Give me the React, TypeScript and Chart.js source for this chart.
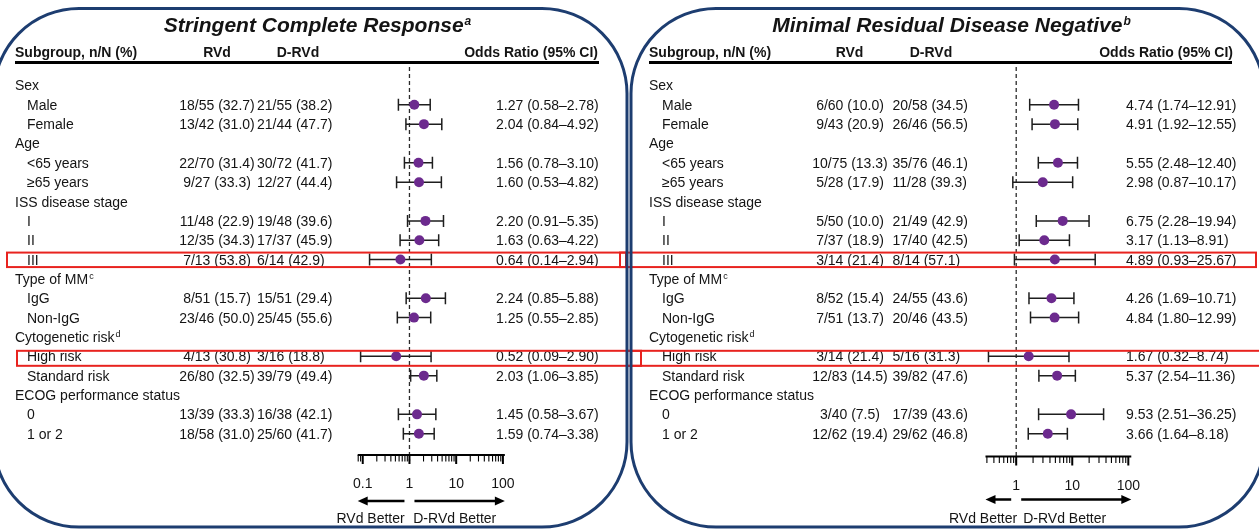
import React, { useEffect, useRef } from "react";
import { Chart, registerables } from "chart.js";

Chart.register(...registerables);

const W = 1259;
const H = 529;
const FONT = '"Liberation Sans", Arial, Helvetica, sans-serif';
const PURPLE = "#6c2a8e";
const NAVY = "#1d3d70";
const RED = "#e8231f";
const INK = "#141414";

// Subgroup table rows (shared by both panels)
const subgroupLabels = [
  "Sex", "Male", "Female",
  "Age", "<65 years", "≥65 years",
  "ISS disease stage", "I", "II", "III",
  "Type of MM", "IgG", "Non-IgG",
  "Cytogenetic risk", "High risk", "Standard risk",
  "ECOG performance status", "0", "1 or 2",
];
const subgroupIndent = [0, 1, 1, 0, 1, 1, 0, 1, 1, 1, 0, 1, 1, 0, 1, 1, 0, 1, 1];
const subgroupSup = ["", "", "", "", "", "", "", "", "", "", "c", "", "", "d", "", "", "", "", ""];

// Rows that carry an estimate, and rows that are outlined
const estimateRows = [1, 2, 4, 5, 7, 8, 9, 11, 12, 14, 15, 17, 18];
const outlinedRows = [9, 14];

// Stringent complete response
const scrRVd = ["18/55 (32.7)", "13/42 (31.0)", "22/70 (31.4)", "9/27 (33.3)", "11/48 (22.9)", "12/35 (34.3)", "7/13 (53.8)", "8/51 (15.7)", "23/46 (50.0)", "4/13 (30.8)", "26/80 (32.5)", "13/39 (33.3)", "18/58 (31.0)"];
const scrDRVd = ["21/55 (38.2)", "21/44 (47.7)", "30/72 (41.7)", "12/27 (44.4)", "19/48 (39.6)", "17/37 (45.9)", "6/14 (42.9)", "15/51 (29.4)", "25/45 (55.6)", "3/16 (18.8)", "39/79 (49.4)", "16/38 (42.1)", "25/60 (41.7)"];
const scrOR = [1.27, 2.04, 1.56, 1.6, 2.2, 1.63, 0.64, 2.24, 1.25, 0.52, 2.03, 1.45, 1.59];
const scrLow = [0.58, 0.84, 0.78, 0.53, 0.91, 0.63, 0.14, 0.85, 0.55, 0.09, 1.06, 0.58, 0.74];
const scrHigh = [2.78, 4.92, 3.1, 4.82, 5.35, 4.22, 2.94, 5.88, 2.85, 2.9, 3.85, 3.67, 3.38];
const scrTicks = [0.1, 1, 10, 100];

// Minimal residual disease negative
const mrdRVd = ["6/60 (10.0)", "9/43 (20.9)", "10/75 (13.3)", "5/28 (17.9)", "5/50 (10.0)", "7/37 (18.9)", "3/14 (21.4)", "8/52 (15.4)", "7/51 (13.7)", "3/14 (21.4)", "12/83 (14.5)", "3/40 (7.5)", "12/62 (19.4)"];
const mrdDRVd = ["20/58 (34.5)", "26/46 (56.5)", "35/76 (46.1)", "11/28 (39.3)", "21/49 (42.9)", "17/40 (42.5)", "8/14 (57.1)", "24/55 (43.6)", "20/46 (43.5)", "5/16 (31.3)", "39/82 (47.6)", "17/39 (43.6)", "29/62 (46.8)"];
const mrdOR = [4.74, 4.91, 5.55, 2.98, 6.75, 3.17, 4.89, 4.26, 4.84, 1.67, 5.37, 9.53, 3.66];
const mrdLow = [1.74, 1.92, 2.48, 0.87, 2.28, 1.13, 0.93, 1.69, 1.8, 0.32, 2.54, 2.51, 1.64];
const mrdHigh = [12.91, 12.55, 12.4, 10.17, 19.94, 8.91, 25.67, 10.71, 12.99, 8.74, 11.36, 36.25, 8.18];
const mrdTicks = [1, 10, 100];

// Layout of the two panels
const ROW_TOP = 82;
const ROW_STEP = 19.72;

const panels = [
  {
    title: "Stringent Complete Response", sup: "a", scaleId: "x",
    onePx: 407.7, decadePx: 47.1,
    titleCenter: 317.5, labelX: 15, indentX: 27,
    rvdX: 217, rvdHeadX: 217, drvdX: 257, drvdHeadX: 298,
    orX: 496, orHeadRight: 598, ruleL: 15, ruleR: 599,
    axisY: 455, axisFrom: 0.078, axisTo: 110, tickLabelY: 488, arrowY: 501,
    betterShift: -0.5, betterGap: 4.3,
    rvd: scrRVd, drvd: scrDRVd, or: scrOR, low: scrLow, high: scrHigh, ticks: scrTicks,
    boxes: [[7, 626], [17, 641]],
    border: [-6, 627],
  },
  {
    title: "Minimal Residual Disease Negative", sup: "b", scaleId: "xR",
    onePx: 1019.3, decadePx: 56.5,
    titleCenter: 951.5, labelX: 649, indentX: 662,
    rvdX: 850, rvdHeadX: 849.5, drvdX: 892.5, drvdHeadX: 931,
    orX: 1126, orHeadRight: 1233, ruleL: 649, ruleR: 1232,
    axisY: 456.5, axisFrom: 0.283, axisTo: 113, tickLabelY: 490, arrowY: 499.5,
    betterShift: 4, betterGap: 3,
    rvd: mrdRVd, drvd: mrdDRVd, or: mrdOR, low: mrdLow, high: mrdHigh, ticks: mrdTicks,
    boxes: [[620, 1256], [627, 1270]],
    border: [631, 1264],
  },
];

const fmt = (v: number) => v.toFixed(2);

function text(ctx: CanvasRenderingContext2D, s: string, x: number, y: number, align: CanvasTextAlign, font: string) {
  ctx.font = font;
  ctx.textAlign = align;
  ctx.textBaseline = "alphabetic";
  ctx.fillText(s, x, y);
}

function drawPanel(chart: any, p: any) {
  const ctx: CanvasRenderingContext2D = chart.ctx;
  const xs = chart.scales[p.scaleId];
  const ys = chart.scales.y;
  const reg = `14px ${FONT}`;
  const bold = `bold 14px ${FONT}`;
  ctx.fillStyle = INK;

  // title with superscript
  ctx.font = `italic bold 21px ${FONT}`;
  const wMain = ctx.measureText(p.title).width;
  ctx.font = `italic bold 12px ${FONT}`;
  const wSup = ctx.measureText(p.sup).width;
  const start = p.titleCenter - (wMain + wSup + 1) / 2;
  text(ctx, p.title, start, 31.5, "left", `italic bold 21px ${FONT}`);
  text(ctx, p.sup, start + wMain + 1, 24.5, "left", `italic bold 12px ${FONT}`);

  // column headers and rule
  text(ctx, "Subgroup, n/N (%)", p.labelX, 56.5, "left", bold);
  text(ctx, "RVd", p.rvdHeadX, 56.5, "center", bold);
  text(ctx, "D-RVd", p.drvdHeadX, 56.5, "center", bold);
  text(ctx, "Odds Ratio (95% CI)", p.orHeadRight, 56.5, "right", bold);
  ctx.strokeStyle = "#000";
  ctx.lineWidth = 3;
  ctx.beginPath();
  ctx.moveTo(p.ruleL, 62.5);
  ctx.lineTo(p.ruleR, 62.5);
  ctx.stroke();

  // subgroup labels
  subgroupLabels.forEach((lab, i) => {
    const yb = ys.getPixelForValue(i) + 5;
    const x = subgroupIndent[i] ? p.indentX : p.labelX;
    text(ctx, lab, x, yb, "left", reg);
    if (subgroupSup[i]) {
      ctx.font = reg;
      const w = ctx.measureText(lab).width;
      text(ctx, subgroupSup[i], x + w + 1, yb - 5, "left", `9px ${FONT}`);
    }
  });

  // counts and odds ratios
  estimateRows.forEach((row, k) => {
    const yb = ys.getPixelForValue(row) + 5;
    text(ctx, p.rvd[k], p.rvdX, yb, "center", reg);
    text(ctx, p.drvd[k], p.drvdX, yb, "left", reg);
    text(ctx, `${fmt(p.or[k])} (${fmt(p.low[k])}–${fmt(p.high[k])})`, p.orX, yb, "left", reg);
  });

  // line of no effect
  const x1 = xs.getPixelForValue(1);
  ctx.save();
  ctx.strokeStyle = "#2a2a2a";
  ctx.lineWidth = 1.3;
  ctx.setLineDash([4, 3]);
  ctx.beginPath();
  ctx.moveTo(x1, 67);
  ctx.lineTo(x1, p.axisY + 6);
  ctx.stroke();
  ctx.restore();

  // confidence intervals
  ctx.strokeStyle = "#1e1e1e";
  ctx.lineWidth = 1.5;
  estimateRows.forEach((row, k) => {
    const y = ys.getPixelForValue(row);
    const a = xs.getPixelForValue(p.low[k]);
    const b = xs.getPixelForValue(p.high[k]);
    ctx.beginPath();
    ctx.moveTo(a, y);
    ctx.lineTo(b, y);
    ctx.moveTo(a, y - 6);
    ctx.lineTo(a, y + 6);
    ctx.moveTo(b, y - 6);
    ctx.lineTo(b, y + 6);
    ctx.stroke();
  });

  // log axis
  const ax0 = xs.getPixelForValue(p.axisFrom);
  const ax1 = xs.getPixelForValue(p.axisTo);
  ctx.strokeStyle = "#000";
  ctx.lineWidth = 2;
  ctx.beginPath();
  ctx.moveTo(ax0, p.axisY);
  ctx.lineTo(ax1, p.axisY);
  ctx.stroke();
  for (let e = -2; e <= 2; e++) {
    for (let m = 1; m <= 9; m++) {
      const v = m * Math.pow(10, e);
      if (v < p.axisFrom * 0.999 || v > p.axisTo * 1.001) continue;
      const tx = xs.getPixelForValue(v);
      ctx.lineWidth = m === 1 ? 2 : 1.1;
      ctx.beginPath();
      ctx.moveTo(tx, p.axisY);
      ctx.lineTo(tx, p.axisY + (m === 1 ? 9 : 6.5));
      ctx.stroke();
    }
  }
  ctx.fillStyle = INK;
  p.ticks.forEach((t: number) => {
    text(ctx, String(t), xs.getPixelForValue(t), p.tickLabelY, "center", reg);
  });

  // direction arrows
  const arrow = (from: number, to: number, y: number) => {
    const dir = Math.sign(to - from);
    ctx.strokeStyle = "#000";
    ctx.lineWidth = 2.5;
    ctx.beginPath();
    ctx.moveTo(from, y);
    ctx.lineTo(to - dir * 8, y);
    ctx.stroke();
    ctx.fillStyle = "#000";
    ctx.beginPath();
    ctx.moveTo(to, y);
    ctx.lineTo(to - dir * 10, y - 4.5);
    ctx.lineTo(to - dir * 10, y + 4.5);
    ctx.closePath();
    ctx.fill();
  };
  arrow(x1 - 5, ax0, p.arrowY);
  arrow(x1 + 5, ax1, p.arrowY);
  ctx.fillStyle = INK;
  const mid = x1 + p.betterShift;
  text(ctx, "RVd Better", mid - p.betterGap, 523, "right", reg);
  text(ctx, "D-RVd Better", mid + p.betterGap, 523, "left", reg);
}

const forestDecor = {
  id: "forestDecor",
  beforeDatasetsDraw(chart: any) {
    const ctx: CanvasRenderingContext2D = chart.ctx;
    ctx.save();
    ctx.fillStyle = "#fff";
    ctx.fillRect(0, 0, W, H);
    panels.forEach((p) => drawPanel(chart, p));
    ctx.restore();
  },
  afterDatasetsDraw(chart: any) {
    const ctx: CanvasRenderingContext2D = chart.ctx;
    const ys = chart.scales.y;
    ctx.save();
    // outlined subgroups
    ctx.strokeStyle = RED;
    ctx.lineWidth = 2;
    panels.forEach((p) => {
      outlinedRows.forEach((row, j) => {
        const yc = ys.getPixelForValue(row);
        const top = j === 0 ? yc - 7 : yc - 5.5;
        const bottom = j === 0 ? yc + 7.5 : yc + 9.5;
        const [l, r] = p.boxes[j];
        ctx.strokeRect(l, top, r - l, bottom - top);
      });
    });
    // rounded panel frames
    ctx.strokeStyle = NAVY;
    ctx.lineWidth = 3;
    panels.forEach((p) => {
      const [l, r] = p.border;
      ctx.beginPath();
      (ctx as any).roundRect(l, 8.5, r - l, 518.5, 85);
      ctx.stroke();
    });
    ctx.restore();
  },
};

export default function App() {
  const ref = useRef<HTMLCanvasElement>(null);

  useEffect(() => {
    if (!ref.current) return;
    const pointStyle = {
      pointRadius: 5,
      pointHoverRadius: 5,
      pointBackgroundColor: PURPLE,
      pointBorderColor: PURPLE,
      pointBorderWidth: 0,
      showLine: false,
    };
    const [pl, pr] = panels;
    const chart = new Chart(ref.current, {
      type: "scatter",
      data: {
        datasets: [
          {
            label: "Stringent Complete Response",
            xAxisID: "x",
            yAxisID: "y",
            data: scrOR.map((v, k) => ({ x: v, y: estimateRows[k] })),
            ...pointStyle,
          },
          {
            label: "Minimal Residual Disease Negative",
            xAxisID: "xR",
            yAxisID: "y",
            data: mrdOR.map((v, k) => ({ x: v, y: estimateRows[k] })),
            ...pointStyle,
          },
        ],
      },
      options: {
        responsive: false,
        animation: false,
        events: [],
        layout: { padding: 0 },
        plugins: { legend: { display: false }, tooltip: { enabled: false } },
        scales: {
          x: {
            type: "logarithmic",
            axis: "x",
            display: false,
            min: Math.pow(10, -pl.onePx / pl.decadePx),
            max: Math.pow(10, (W - pl.onePx) / pl.decadePx),
          },
          xR: {
            type: "logarithmic",
            axis: "x",
            display: false,
            min: Math.pow(10, -pr.onePx / pr.decadePx),
            max: Math.pow(10, (W - pr.onePx) / pr.decadePx),
          },
          y: {
            type: "linear",
            display: false,
            reverse: true,
            min: -ROW_TOP / ROW_STEP,
            max: (H - ROW_TOP) / ROW_STEP,
          },
        },
      } as any,
      plugins: [forestDecor],
    });
    return () => chart.destroy();
  }, []);

  return (
    <div style={{ position: "fixed", left: 0, top: 0, width: W, height: H, background: "#fff" }}>
      <canvas ref={ref} width={W} height={H} style={{ display: "block" }} />
    </div>
  );
}
